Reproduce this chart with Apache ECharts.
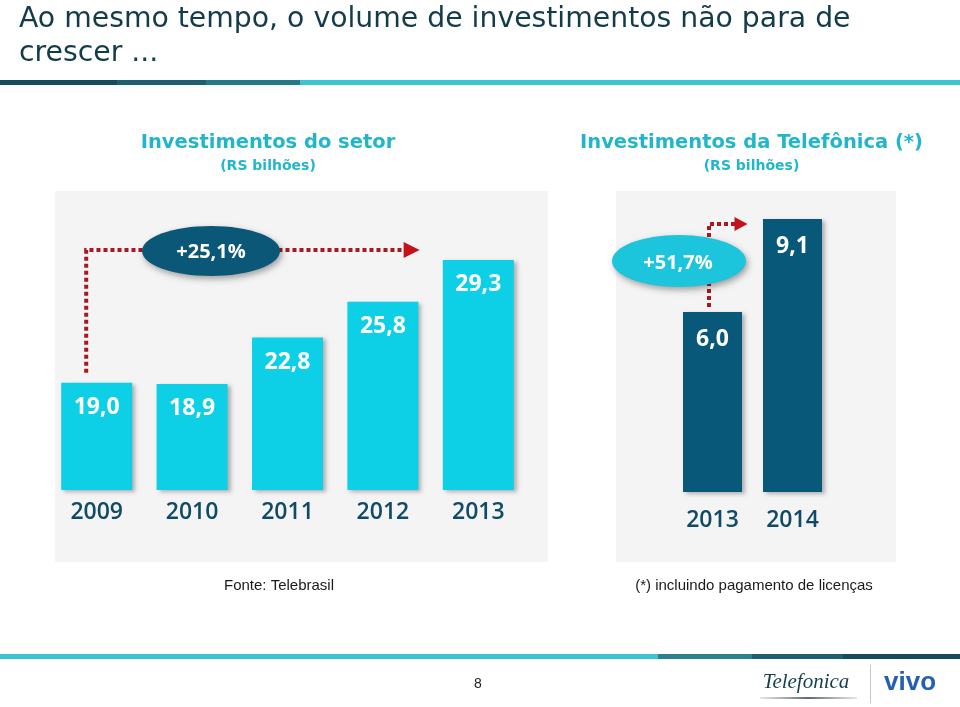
<!DOCTYPE html>
<html><head><meta charset="utf-8">
<script src="https://cdn.jsdelivr.net/npm/echarts@6/dist/echarts.min.js"></script>
<style>html,body{margin:0;padding:0;background:#fff}#c{width:960px;height:707px}</style>
</head><body><div id="c"></div>
<script>
// ---- data ----
const sectorYears = ['2009', '2010', '2011', '2012', '2013'];
const sectorValues = [19.0, 18.9, 22.8, 25.8, 29.3];
const sectorLabels = ['19,0', '18,9', '22,8', '25,8', '29,3'];
const telYears = ['2013', '2014'];
const telValues = [6.0, 9.1];
const telLabels = ['6,0', '9,1'];
const sectorGrowth = '+25,1%';
const telGrowth = '+51,7%';

const titleLines = ['Ao mesmo tempo, o volume de investimentos não para de', 'crescer ...'];
const leftTitle = 'Investimentos do setor';
const rightTitle = 'Investimentos da Telefônica (*)';
const unitText = '(RS bilhões)';
const sourceText = 'Fonte: Telebrasil';
const noteText = '(*) incluindo pagamento de licenças';
const pageNum = '8';

const CYAN = '#0dcfe6', NAVY = '#08587a', AXIS = '#0f4a66', RED = '#a8181f', TITLE_C = '#22b6cc';

const chart = echarts.init(document.getElementById('c'));
const barShadow = {shadowColor: 'rgba(0,0,0,0.28)', shadowBlur: 4, shadowOffsetX: 3, shadowOffsetY: 2};
const valueLabel = (labels, dist) => ({
  show: true, position: 'insideTop', distance: dist, color: '#fff',
  fontFamily: 'Open Sans', fontWeight: 'bold', fontSize: 23, lineHeight: 24,
  formatter: p => labels[p.dataIndex]
});
const xLabel = (margin) => ({color: AXIS, fontFamily: 'Open Sans', fontWeight: 600, fontSize: 23, lineHeight: 24, margin: margin});

chart.setOption({
  animation: false,
  grid: [
    {left: 49, width: 477, top: 192, height: 298},
    {left: 672.5, width: 160, top: 192, height: 300}
  ],
  xAxis: [
    {type: 'category', gridIndex: 0, data: sectorYears, axisLine: {show: false}, axisTick: {show: false}, axisLabel: xLabel(10)},
    {type: 'category', gridIndex: 1, data: telYears, axisLine: {show: false}, axisTick: {show: false}, axisLabel: xLabel(16)}
  ],
  yAxis: [
    {type: 'value', gridIndex: 0, min: 10, max: 35, show: false, splitLine: {show: false}},
    {type: 'value', gridIndex: 1, min: 0, max: 10, show: false, splitLine: {show: false}}
  ],
  series: [
    {type: 'bar', xAxisIndex: 0, yAxisIndex: 0, data: sectorValues, barWidth: 71,
     itemStyle: Object.assign({color: CYAN}, barShadow), label: valueLabel(sectorLabels, 13)},
    {type: 'bar', xAxisIndex: 1, yAxisIndex: 1, data: telValues, barWidth: 59,
     itemStyle: Object.assign({color: NAVY}, barShadow), label: valueLabel(telLabels, 15)}
  ]
});

const px = (s, i, v) => chart.convertToPixel({seriesIndex: s}, [i, v]);
const a0 = px(0, 0, sectorValues[0]);
const a2012 = px(0, 3, sectorValues[3]);
const a2013 = px(0, 4, sectorValues[4]);
const b0 = px(1, 0, telValues[0]);
const b1 = px(1, 1, telValues[1]);

const lx = a0[0] - 10.5, lyB = a0[1] - 10, lyT = 250;
const lTip = (a2012[0] + a2013[0]) / 2 - 11;
const rx = b0[0] - 3.5, ryB = b0[1] - 5, ryT = b1[1] + 5;
const rTip = (b0[0] + b1[0]) / 2 - 5;

const dots = {stroke: RED, lineWidth: 4, lineDash: [4, 3], fill: null};
const ellShadow = {shadowColor: 'rgba(0,0,0,0.35)', shadowBlur: 6, shadowOffsetX: 2, shadowOffsetY: 3};

const g = [
  // header bars
  {type: 'rect', shape: {x: 0, y: 80, width: 117, height: 5}, style: {fill: '#154d5d'}},
  {type: 'rect', shape: {x: 117, y: 80, width: 89, height: 5}, style: {fill: '#1d5e6f'}},
  {type: 'rect', shape: {x: 206, y: 80, width: 94, height: 5}, style: {fill: '#237a89'}},
  {type: 'rect', shape: {x: 300, y: 80, width: 660, height: 5}, style: {fill: '#3cc4d2'}},
  // footer bars
  {type: 'rect', shape: {x: 0, y: 654, width: 658, height: 5}, style: {fill: '#3cc4d2'}},
  {type: 'rect', shape: {x: 658, y: 654, width: 94, height: 5}, style: {fill: '#2a8190'}},
  {type: 'rect', shape: {x: 752, y: 654, width: 91, height: 5}, style: {fill: '#1d5f6f'}},
  {type: 'rect', shape: {x: 843, y: 654, width: 117, height: 5}, style: {fill: '#164b5b'}},
  // panels
  {type: 'rect', z: -5, shape: {x: 55, y: 191, width: 493, height: 371}, style: {fill: '#f4f4f4'}},
  {type: 'rect', z: -5, shape: {x: 616, y: 191, width: 280, height: 371}, style: {fill: '#f4f4f4'}},
  // title
  {type: 'text', style: {text: titleLines[0], x: 19, y: 20, verticalAlign: 'middle', fill: '#133c4b', font: '28.3px "DejaVu Sans"'}},
  {type: 'text', style: {text: titleLines[1], x: 19, y: 54, verticalAlign: 'middle', fill: '#133c4b', font: '28.3px "DejaVu Sans"'}},
  // panel titles
  {type: 'text', style: {text: leftTitle, x: 268, y: 143, align: 'center', verticalAlign: 'middle', fill: TITLE_C, font: 'bold 19.5px "DejaVu Sans"'}},
  {type: 'text', style: {text: unitText, x: 268, y: 166, align: 'center', verticalAlign: 'middle', fill: TITLE_C, font: 'bold 14px "DejaVu Sans"'}},
  {type: 'text', style: {text: rightTitle, x: 751.5, y: 143, align: 'center', verticalAlign: 'middle', fill: TITLE_C, font: 'bold 19.5px "DejaVu Sans"'}},
  {type: 'text', style: {text: unitText, x: 751.5, y: 166, align: 'center', verticalAlign: 'middle', fill: TITLE_C, font: 'bold 14px "DejaVu Sans"'}},
  // dotted arrows
  {type: 'polyline', z: 10, shape: {points: [[lx, lyB], [lx, lyT], [lTip - 14, lyT]]}, style: dots},
  {type: 'polygon', z: 10, shape: {points: [[lTip - 16, lyT - 8], [lTip, lyT], [lTip - 16, lyT + 8]]}, style: {fill: '#c4121a'}},
  {type: 'polyline', z: 10, shape: {points: [[rx, ryB], [rx, ryT], [rTip - 12, ryT]]}, style: dots},
  {type: 'polygon', z: 10, shape: {points: [[rTip - 13, ryT - 7], [rTip, ryT], [rTip - 13, ryT + 7]]}, style: {fill: '#c4121a'}},
  // ellipses
  {type: 'ellipse', z: 11, shape: {cx: 211, cy: 251, rx: 69, ry: 25}, style: Object.assign({fill: '#0b5777'}, ellShadow)},
  {type: 'text', z: 12, style: {text: sectorGrowth, x: 211, y: 252, align: 'center', verticalAlign: 'middle', fill: '#fff', font: 'bold 20px "Open Sans"'}},
  {type: 'ellipse', z: 11, shape: {cx: 679, cy: 261, rx: 67, ry: 26}, style: Object.assign({fill: '#1cc4dc'}, ellShadow)},
  {type: 'text', z: 12, style: {text: telGrowth, x: 678, y: 263, align: 'center', verticalAlign: 'middle', fill: '#fff', font: 'bold 20px "Open Sans"'}},
  // footnotes
  {type: 'text', style: {text: sourceText, x: 279, y: 586, align: 'center', verticalAlign: 'middle', fill: '#1a1a1a', font: '15px "Liberation Sans"'}},
  {type: 'text', style: {text: noteText, x: 754, y: 586, align: 'center', verticalAlign: 'middle', fill: '#1a1a1a', font: '15px "Liberation Sans"'}},
  // footer
  {type: 'text', style: {text: pageNum, x: 478, y: 684, align: 'center', verticalAlign: 'middle', fill: '#222', font: '14px "Liberation Sans"'}},
  {type: 'text', style: {text: 'Telefonica', x: 806, y: 682, align: 'center', verticalAlign: 'middle', fill: '#173f4f', font: 'italic 21px "Liberation Serif"'}},
  {type: 'rect', shape: {x: 760, y: 697, width: 97, height: 2}, style: {fill: new echarts.graphic.LinearGradient(0, 0, 1, 0, [{offset: 0, color: 'rgba(120,130,135,0.2)'}, {offset: 0.5, color: '#5d6a70'}, {offset: 1, color: 'rgba(120,130,135,0.2)'}])}},
  {type: 'rect', shape: {x: 870, y: 665, width: 1, height: 38}, style: {fill: '#c8c8c8'}},
  {type: 'text', style: {text: 'vivo', x: 910, y: 683, align: 'center', verticalAlign: 'middle', fill: '#2360b3', font: 'bold 26px "Liberation Sans"'}}
];
chart.setOption({graphic: g});
</script></body></html>
